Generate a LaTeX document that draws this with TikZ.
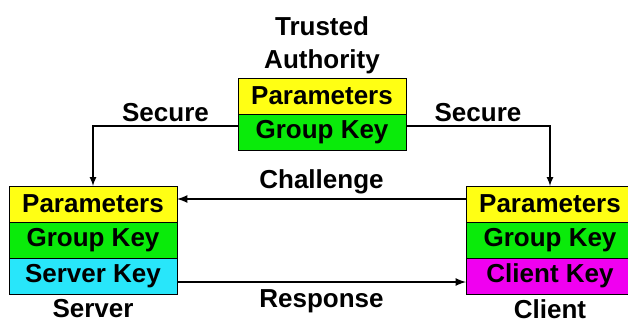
\documentclass[tikz,border=0pt]{standalone}
\usepackage{fontspec}
\setmainfont{Liberation Sans}
\usepackage{tikz}
\usetikzlibrary{arrows}
\usetikzlibrary{positioning}
\definecolor{paramyellow}{RGB}{255,255,20}
\definecolor{groupgreen}{RGB}{10,235,10}
\definecolor{servercyan}{RGB}{40,230,250}
\definecolor{clientmagenta}{RGB}{240,0,240}

\begin{document}
\begin{tikzpicture}[x=1pt,y=1pt,every node/.style={font=\bfseries\fontsize{26}{33}\selectfont},
				keybox/.style={rectangle,draw,line width=1pt,outer sep=0pt,minimum width=168pt,minimum height=36pt,inner sep=0pt},
				parambox/.style={keybox,fill=paramyellow},
				groupbox/.style={keybox,fill=groupgreen},
				serverbox/.style={keybox,fill=servercyan},
				clientbox/.style={keybox,fill=clientmagenta},
				rolename/.style={inner sep=2pt,align=center},
				link/.style={line width=2pt,-latex},
				msg/.style={line width=2.5pt,-latex}
				]
				\useasboundingbox (0,0) rectangle (628,325);
				\node (tp) [parambox] at (322,229) {Parameters};
				\node (tg) [groupbox,below=0pt of tp] {Group Key};
				\node (ta) [rolename,above=2pt of tp] {Trusted\\Authority};
				\node (sp) [parambox] at (93,121) {Parameters};
				\node (sg) [groupbox,below=0pt of sp] {Group Key};
				\node (sk) [serverbox,below=0pt of sg] {Server Key};
				\node (sn) [rolename,below=3pt of sk] {Server};
				\node (cp) [parambox] at (550,121) {Parameters};
				\node (cg) [groupbox,below=0pt of cp] {Group Key};
				\node (ck) [clientbox,below=0pt of cg] {Client Key};
				\node (cn) [rolename,below=3pt of ck] {Client};
				\draw [link] ([yshift=6pt]tg.west) -| node[pos=0.25,above] {Secure} (sp.north);
				\draw [link] ([yshift=6pt]tg.east) -| node[pos=0.25,above] {Secure} (cp.north);
				\draw [msg] ([yshift=5pt]cp.west) -- node[above] {Challenge} ([yshift=5pt]sp.east);
				\draw [msg] ([yshift=-6pt]sk.east) -- node[below=3pt] {Response} ([yshift=-6pt]ck.west);
\end{tikzpicture}
\end{document}
